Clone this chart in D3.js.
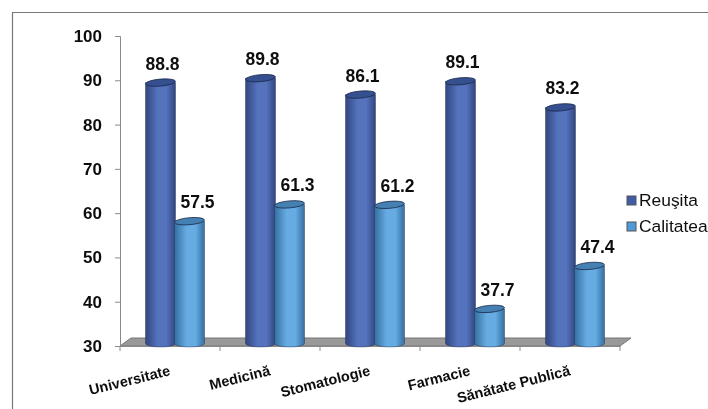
<!DOCTYPE html>
<meta charset="utf-8">
<style>
body { margin: 0; background: #fff; }
svg { display: block; }
text { font-family: "Liberation Sans", Arial, sans-serif; fill: #111; }
.axis text { font-size: 17px; font-weight: bold; }
.axis path, .axis line { stroke: #8a8a8a; stroke-width: 1px; }
.value { font-size: 17.5px; font-weight: bold; text-anchor: middle; }
.cat { font-size: 14.5px; font-weight: bold; text-anchor: end; }
.leg { font-size: 17.4px; }
</style>
<svg width="708" height="409"></svg>
<script src="https://d3js.org/d3.v7.min.js"></script>
<script>

var categories = ["Universitate", "Medicină", "Stomatologie", "Farmacie", "Sănătate Publică"];
var seriesNames = ["Reuşita", "Calitatea"];
var reusita = [88.8, 89.8, 86.1, 89.1, 83.2];
var calitatea = [57.5, 61.3, 61.2, 37.7, 47.4];
var yTicks = [30, 40, 50, 60, 70, 80, 90, 100];
var colors = [
  { id: "gradA", edge: "#324680", mid: "#5472bc", top: "#34508f" },
  { id: "gradB", edge: "#356f9f", mid: "#66abe2", top: "#4580b2" }
];

var svg = d3.select("svg");

var x = d3.scaleBand().domain(categories).range([120, 620]);
var y = d3.scaleLinear().domain([30, 100]).range([346, 36]);
var inner = d3.scaleBand().domain(seriesNames).range([26, 84]);

var rx = 15, ry = 3.5, lift = 3;

var defs = svg.append("defs");
defs.append("filter").attr("id", "soft")
  .append("feGaussianBlur").attr("stdDeviation", 0.4);
colors.forEach(function(c) {
  var g = defs.append("linearGradient").attr("id", c.id);
  g.append("stop").attr("offset", "0%").attr("stop-color", c.edge);
  g.append("stop").attr("offset", "40%").attr("stop-color", c.mid);
  g.append("stop").attr("offset", "70%").attr("stop-color", c.mid);
  g.append("stop").attr("offset", "100%").attr("stop-color", c.edge);
});

var chart = svg.append("g").attr("filter", "url(#soft)");

// outer frame, only top and left
chart.append("path")
    .attr("d", "M12.5,409V12.5H708")
    .attr("fill", "none")
    .attr("stroke", "#777")
    .attr("stroke-width", 1.2);

// floor
var floorTop = y(30) - 8;
chart.append("path")
    .attr("d", d3.line()([[120, y(30)], [131, floorTop], [631, floorTop], [620, y(30)]]) + "Z")
    .attr("fill", "#999")
    .attr("stroke", "#777");

var yAxis = d3.axisLeft(y).tickValues(yTicks).tickSize(5).tickPadding(13).tickFormat(d3.format("d"));
chart.append("g").attr("class", "axis").attr("transform", "translate(120,0)").call(yAxis);

var xAxis = d3.axisBottom(x).tickSize(0).tickFormat("");
var xg = chart.append("g").attr("class", "axis").attr("transform", "translate(0,346)").call(xAxis);
xg.selectAll(".boundary").data(d3.range(6)).enter().append("line")
    .attr("x1", function(d) { return 120 + d * x.bandwidth(); })
    .attr("x2", function(d) { return 120 + d * x.bandwidth(); })
    .attr("y1", 0).attr("y2", 5);

var rows = [];
categories.forEach(function(c, i) {
  rows.push({ cat: c, s: 0, value: reusita[i] });
  rows.push({ cat: c, s: 1, value: calitatea[i] });
});

function cx(d) { return x(d.cat) + inner(seriesNames[d.s]) + inner.bandwidth() / 2; }

var bar = chart.append("g").selectAll("g").data(rows).enter().append("g");

bar.append("path")
    .attr("d", function(d) {
      var t = y(d.value) - lift, b = y(30) - 2.5, c = cx(d);
      return "M" + (c - rx) + "," + t + "V" + b +
        "A" + rx + "," + ry + " 0 0 0 " + (c + rx) + "," + b +
        "V" + t + "Z";
    })
    .attr("fill", function(d) { return "url(#" + colors[d.s].id + ")"; })
    .attr("stroke", "#22304f")
    .attr("stroke-opacity", 0.6)
    .attr("stroke-width", 0.7);

// bar tops lean a little, rising to the right
bar.append("ellipse")
    .attr("transform", function(d) {
      return "translate(" + cx(d) + "," + (y(d.value) - lift) + ") rotate(-5)";
    })
    .attr("rx", rx)
    .attr("ry", ry)
    .attr("fill", function(d) { return colors[d.s].top; })
    .attr("stroke", "#1c2a4c")
    .attr("stroke-width", 0.8);

// the labels of the second series sit a bit to the right of their bar
bar.append("text")
    .attr("class", "value")
    .attr("x", function(d) { return cx(d) + (d.s ? 8 : 2); })
    .attr("y", function(d) { return y(d.value) - lift - 13; })
    .text(function(d) { return d.value.toFixed(1); });

chart.append("g").selectAll("text").data(categories).enter().append("text")
    .attr("class", "cat")
    .attr("transform", function(d) {
      return "translate(" + (x(d) + 51) + ",375) rotate(-14)";
    })
    .text(function(d) { return d; });

// legend
var leg = chart.append("g").selectAll("g").data(seriesNames).enter().append("g")
    .attr("transform", function(d, i) { return "translate(627," + (196 + i * 26) + ")"; });
leg.append("rect")
    .attr("width", 9).attr("height", 9)
    .attr("fill", function(d, i) { return i ? "#4f9ad8" : "#3f5ba8"; })
    .attr("stroke", "#555");
leg.append("text")
    .attr("class", "leg")
    .attr("x", 12).attr("y", 10)
    .text(function(d) { return d; });

</script>
